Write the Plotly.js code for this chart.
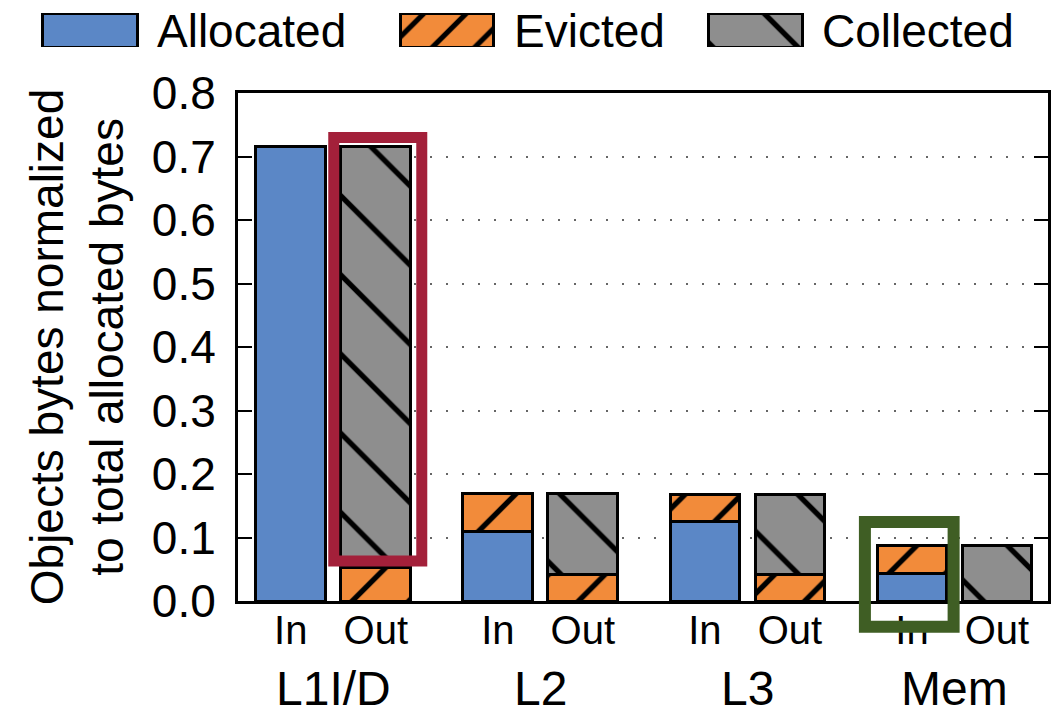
<!DOCTYPE html>
<html>
<head>
<meta charset="utf-8">
<script src="https://cdn.plot.ly/plotly-3.0.1.min.js"></script>
<style>html,body{margin:0;padding:0;background:#fff;}#chart{width:1058px;height:714px;}</style>
</head>
<body>
<div id="chart"></div>
<script>
// ---- data ----
const groups = ['L1I/D', 'L2', 'L3', 'Mem'];
const sides = ['In', 'Out'];
const allocated = [0.715, null, 0.109, null, 0.125, null, 0.044, null];
const evicted   = [null, 0.052, 0.061, 0.041, 0.042, 0.041, 0.044, null];
const collected = [null, 0.663, null, 0.129, null, 0.126, null, 0.088];
const seriesNames = ['Allocated', 'Evicted', 'Collected'];
const yTickVals = [0, 0.1, 0.2, 0.3, 0.4, 0.5, 0.6, 0.7, 0.8];
const yTickText = ['0.0', '0.1', '0.2', '0.3', '0.4', '0.5', '0.6', '0.7', '0.8'];

// ---- layout helpers ----
const W = 1058, H = 714;
const groupStep = 2.435;
const xs = [];
const xt = [];
groups.forEach((g, gi) => sides.forEach((s, si) => { xs.push(gi * groupStep + si); xt.push(s); }));
const groupCenters = groups.map((g, gi) => gi * groupStep + 0.5);

const colors = { Allocated: '#5b87c6', Evicted: '#f28b3a', Collected: '#8e8e8e' };
const FONT = 'Liberation Sans, Arial, Helvetica, sans-serif';

function marker(name, size, sol) {
  const m = { color: colors[name], line: { color: '#000', width: 3 } };
  if (name === 'Evicted') m.pattern = { shape: '/', fgcolor: '#000', bgcolor: colors[name], size: size || 40, solidity: sol || 0.135, fillmode: 'replace' };
  if (name === 'Collected') m.pattern = { shape: '\\', fgcolor: '#000', bgcolor: colors[name], size: size || 56, solidity: sol || 0.095, fillmode: 'replace' };
  return m;
}

const vals = { Allocated: allocated, Evicted: evicted, Collected: collected };
const traces = seriesNames.map(n => ({
  type: 'bar', name: n, x: xs, y: vals[n], width: 0.82,
  marker: marker(n), showlegend: false, xaxis: 'x', yaxis: 'y', hoverinfo: 'name+y'
}));

// custom legend swatches (drawn as bars on a hidden pixel axis)
const legendSwatch = { Allocated: [42, 95], Evicted: [400, 93], Collected: [708, 94] };
const legendText = { Allocated: 155, Evicted: 512, Collected: 820 };
seriesNames.forEach(n => {
  traces.push({
    type: 'bar', orientation: 'h', name: n, y: [0.5], base: [legendSwatch[n][0]], x: [legendSwatch[n][1]],
    width: 1, marker: marker(n, n === 'Evicted' ? 30 : 60, n === 'Evicted' ? 0.17 : 0.09), showlegend: false,
    xaxis: 'x2', yaxis: 'y2', hoverinfo: 'skip'
  });
});

const plotL = 238, plotR = 1048, plotT = 93, plotB = 601;
const annotations = groups.map((g, i) => ({
  text: g, x: groupCenters[i], xref: 'x', y: 1 - 688 / H, yref: 'paper',
  showarrow: false, xanchor: 'center', yanchor: 'middle', font: { family: FONT, size: 48, color: '#000' }
}));
seriesNames.forEach(n => annotations.push({
  text: n, x: legendText[n] / W, xref: 'paper', y: 1 - 31 / H, yref: 'paper',
  showarrow: false, xanchor: 'left', yanchor: 'middle', font: { family: FONT, size: 46, color: '#000' }
}));

const layout = {
  width: W, height: H,
  margin: { l: 0, r: 0, t: 0, b: 0 },
  paper_bgcolor: '#fff', plot_bgcolor: '#fff',
  barmode: 'stack',
  font: { family: FONT, color: '#000' },
  xaxis: {
    domain: [plotL / W, plotR / W], range: [-0.62, 8.905],
    tickvals: xs, ticktext: xt, ticks: '', showgrid: false, zeroline: false,
    showline: true, linecolor: '#000', linewidth: 3, mirror: true,
    tickfont: { family: FONT, size: 40, color: '#000' }, ticklabelstandoff: -8, automargin: false
  },
  yaxis: {
    domain: [1 - plotB / H, 1 - plotT / H], range: [0, 0.8],
    tickvals: yTickVals, ticktext: yTickText,
    ticks: 'inside', ticklen: 14, tickwidth: 2, tickcolor: '#000',
    showline: true, linecolor: '#000', linewidth: 3, mirror: 'ticks',
    showgrid: true, gridcolor: '#666', gridwidth: 2, griddash: '2px,14px',
    zeroline: false, ticklabelstandoff: 10,
    tickfont: { family: FONT, size: 46, color: '#000' },
    title: { text: 'Objects bytes normalized<br>to total allocated bytes', font: { family: FONT, size: 46, color: '#000' }, standoff: 14 },
    automargin: false
  },
  xaxis2: { domain: [0, 1], range: [0, W], visible: false, fixedrange: true },
  yaxis2: { domain: [1 - 47 / H, 1 - 13 / H], range: [0, 1], visible: false, fixedrange: true, anchor: 'x2' },
  annotations: annotations,
  shapes: [
    { type: 'rect', xref: 'x', yref: 'y', x0: xs[1] - 0.494, x1: xs[1] + 0.541, y0: 0.063, y1: 0.730,
      line: { color: '#a3203a', width: 11 }, fillcolor: 'rgba(0,0,0,0)', layer: 'above' },
    { type: 'rect', xref: 'x', yref: 'paper', x0: xs[6] - 0.553, x1: xs[6] + 0.49, y0: 1 - 626.7 / H, y1: 1 - 522 / H,
      line: { color: '#3f5e24', width: 12 }, fillcolor: 'rgba(0,0,0,0)', layer: 'above' }
  ]
};

Plotly.newPlot('chart', traces, layout, { displayModeBar: false, staticPlot: true });
</script>
</body>
</html>
